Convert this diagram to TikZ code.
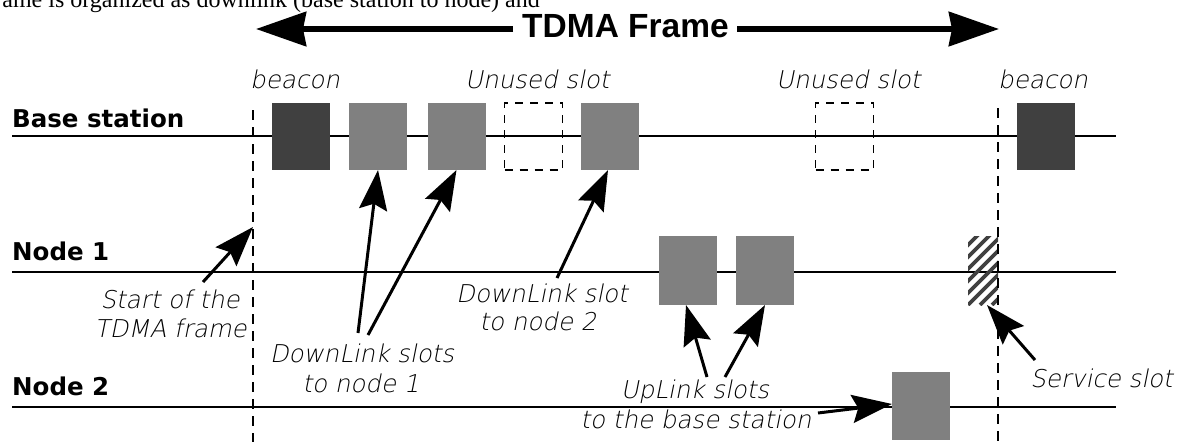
\documentclass[tikz,border=0pt]{standalone}
\usepackage{fontspec}
\usetikzlibrary{arrows.meta,calc}
\newfontfamily\serifr{Liberation Serif}
\newfontfamily\boldsans{DejaVu Sans Bold}
\newfontfamily\tdmafont{Liberation Sans Bold}
\newfontfamily\lightit[FakeSlant=0.2]{DejaVu Sans ExtraLight}
\definecolor{darkslotc}{HTML}{404040}
\definecolor{grayslotc}{HTML}{808080}
\tikzset{
  timeline/.style={line width=1.5pt},
  frameline/.style={line width=1.5pt, dash pattern=on 10pt off 7pt},
  slotbox/.style={minimum width=58pt, minimum height=67pt, inner sep=0pt, outer sep=0pt},
  darkslot/.style={slotbox, fill=darkslotc},
  grayslot/.style={slotbox, fill=grayslotc},
  unusedslot/.style={slotbox, draw, line width=1.5pt, dash pattern=on 8pt off 7pt},
  rowlabel/.style={font=\boldsans\fontsize{24.5}{29}\selectfont, anchor=base west, inner sep=0pt},
  note/.style={font=\lightit\fontsize{24.5}{29}\selectfont, inner sep=0pt, anchor=base},
  pointer/.style={line width=3pt, -{Stealth[length=40pt,width=28pt,inset=6pt]}},
  bigarrow/.style={line width=6pt, -{Stealth[length=50pt,width=34pt,inset=3pt]}},
}
\begin{document}
\begin{tikzpicture}[x=1pt,y=-1pt]
\useasboundingbox (0,0) rectangle (1179,442);
\clip (0,0) rectangle (1179,442);

% clipped running text at the top
\node[anchor=base east, font=\serifr\fontsize{24}{28}\selectfont, inner sep=0pt] (intro) at (540,7) {ame is organized as downlink (base station to node) and};

% TDMA frame arrow
\node[anchor=base west, font=\tdmafont\fontsize{33.5}{40}\selectfont, inner sep=0pt] (tdma) at (522,37) {TDMA Frame};
\coordinate (tl) at (256,29);
\coordinate (tr) at (999,29);
\draw[bigarrow] ([xshift=-9pt]tdma.west |- tl) -- (tl);
\draw[bigarrow] ([xshift=8pt]tdma.east |- tr) -- (tr);

% row labels
\node[rowlabel] (bs) at (12,127) {Base station};
\node[rowlabel] (n1) at (12,260) {Node 1};
\node[rowlabel] (n2) at (12,395) {Node 2};

% timelines
\coordinate (bsL) at (12,136);  \coordinate (bsR) at (1116,136);
\coordinate (n1L) at (12,272);  \coordinate (n1R) at (1116,272);
\coordinate (n2L) at (12,407);  \coordinate (n2R) at (1116,407);
\draw[timeline] (bsL) -- (bsR);
\draw[timeline] (n1L) -- (n1R);
\draw[timeline] (n2L) -- (n2R);

% base station slots
\node[darkslot] (b1) at (301,136.5) {};
\node[grayslot] (g1) at (378,136.5) {};
\node[grayslot] (g2) at (456.5,136.5) {};
\node[unusedslot] (u1) at (533.5,136.5) {};
\node[grayslot] (g3) at (610,136.5) {};
\node[unusedslot] (u2) at (844.5,136.5) {};
\node[darkslot] (b2) at (1045.5,136.5) {};

% node 1 slots
\node[grayslot, minimum height=69pt] (up1) at (688,270.5) {};
\node[grayslot, minimum height=69pt] (up2) at (765,270.5) {};
\node[slotbox, minimum width=30pt, minimum height=69pt] (hs) at (983,270.5) {};
\begin{scope}
  \clip (hs.south west) rectangle (hs.north east);
  \foreach \i in {-84,-72,...,36}
    \draw[line width=3.8pt, darkslotc] ($(hs.south west)+(\i,0)$) -- ++(80,-80);
\end{scope}

% node 2 slot
\node[grayslot, minimum height=68pt] (dn2) at (921,406) {};

% frame boundaries
\coordinate (fsTop) at (253,110); \coordinate (fsBot) at (253,442);
\coordinate (feTop) at (998,108); \coordinate (feBot) at (998,442);
\draw[frameline] (fsTop) -- (fsBot);
\draw[frameline] (feTop) -- (feBot);

% top labels
\node[note, anchor=base west] (bcn1) at (250,88) {beacon};
\node[note, anchor=base west] (uns1) at (465,88) {Unused slot};
\node[note, anchor=base west] (uns2) at (776,88) {Unused slot};
\node[note, anchor=base west] (bcn2) at (998,88) {beacon};

% annotations
\node[note, anchor=base east] (st1) at (240,308) {Start of the};
\node[note, anchor=base east] (st2) at (247,337) {TDMA frame};
\coordinate (stFrom) at (203,282);
\coordinate (stTip) at (253,227);
\draw[pointer] (stFrom) -- (stTip);

\node[note] (dl1a) at (362,362) {DownLink slots};
\node[note] (dl1b) at (361,392) {to node 1};
\coordinate (dlA) at (358,333);
\coordinate (dlB) at (368,335);
\draw[pointer] (dlA) -- (g1.south);
\draw[pointer] (dlB) -- (g2.south);

\node[note] (dl2a) at (542,302) {DownLink slot};
\node[note] (dl2b) at (538,330) {to node 2};
\coordinate (dlC) at (557,278);
\draw[pointer] (dlC) -- ([xshift=-2pt]g3.south);

\node[note] (ula) at (695,398) {UpLink slots};
\node[note] (ulb) at (696,428) {to the base station};
\coordinate (ulA) at (707,377);
\coordinate (ulB) at (725,377);
\draw[pointer] (ulA) -- ([xshift=-2pt]up1.south);
\draw[pointer] (ulB) -- (up2.south);
\coordinate (ulC) at (818,413);
\draw[pointer] (ulC) -- ([yshift=2pt]dn2.west);

\node[note, anchor=base east] (svc) at (1173,387) {Service slot};
\coordinate (svA) at (1035,360);
\draw[pointer] (svA) -- ([xshift=4pt]hs.south);
\end{tikzpicture}
\end{document}
